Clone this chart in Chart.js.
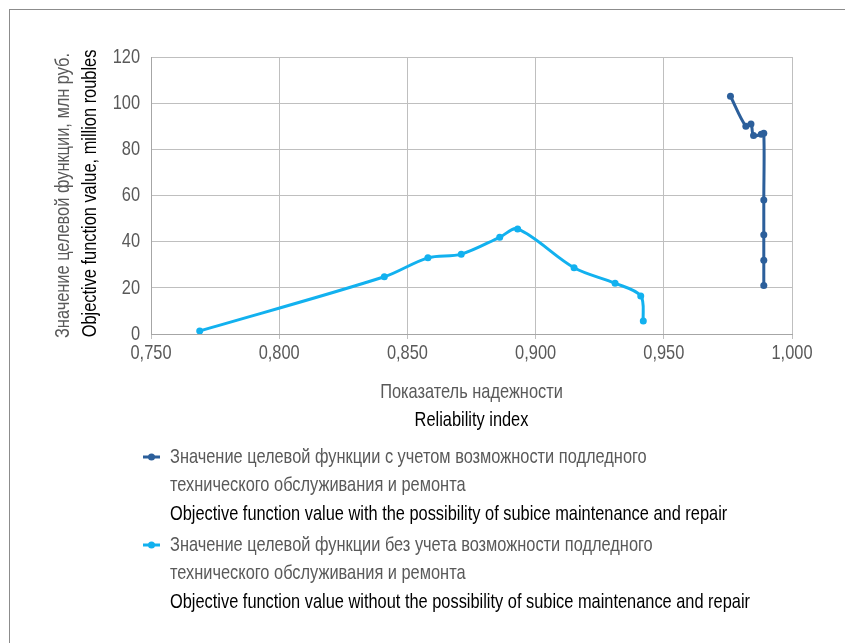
<!DOCTYPE html>
<html>
<head>
<meta charset="utf-8">
<script src="https://cdn.jsdelivr.net/npm/chart.js@4/dist/chart.umd.min.js"></script>
<style>
  html, body { margin: 0; padding: 0; background: #ffffff; overflow: hidden; }
  #wrap { position: relative; width: 845px; height: 643px; }
</style>
</head>
<body>
<div id="wrap"><canvas id="chart" width="845" height="643"></canvas></div>
<script>
// Series: reliability index (x) and objective function value, million roubles (y)
const reliabilityWith = [0.976, 0.982, 0.984, 0.985, 0.988, 0.989, 0.989, 0.989, 0.989, 0.989];
const objectiveWith   = [103, 90, 91, 86, 86.5, 87, 58, 43, 32, 21];

const reliabilityWithout = [0.769, 0.841, 0.858, 0.871, 0.886, 0.893, 0.915, 0.931, 0.941, 0.942];
const objectiveWithout   = [1.3, 24.8, 33, 34.6, 41.9, 45.5, 28.7, 22, 16.5, 5.6];

// Tick labels
const xTickLabels = ['0,750', '0,800', '0,850', '0,900', '0,950', '1,000'];
const yTickLabels = ['0', '20', '40', '60', '80', '100', '120'];

// Axis titles (Russian / English)
const xTitle = ['Показатель надежности', 'Reliability index'];
const yTitle = ['Значение целевой функции, млн руб.', 'Objective function value, million roubles'];

// Legend entries (Russian lines, then English line)
const legendWith = [
  'Значение целевой функции с учетом возможности подледного',
  'технического обслуживания и ремонта',
  'Objective function value with the possibility of subice maintenance and repair'
];
const legendWithout = [
  'Значение целевой функции без учета возможности подледного',
  'технического обслуживания и ремонта',
  'Objective function value without the possibility of subice maintenance and repair'
];

const COLOR_WITH = '#2c5f9b';
const COLOR_WITHOUT = '#12b1ef';
const GREY_TEXT = '#595959';
const BLACK_TEXT = '#000000';
const FONT = '21px "Liberation Sans", Arial, sans-serif';
const SQUEEZE = 0.78;   // horizontal squeeze for the narrow typeface look

function toPoints(xs, ys) {
  return xs.map((x, i) => ({ x: x, y: ys[i] }));
}

function narrowText(ctx, text, x, y, opts) {
  ctx.save();
  ctx.translate(x, y);
  if (opts.rotate) ctx.rotate(opts.rotate);
  ctx.scale(SQUEEZE, 1);
  ctx.font = FONT;
  ctx.fillStyle = opts.color;
  ctx.textAlign = opts.align || 'left';
  ctx.textBaseline = 'middle';
  ctx.fillText(text, 0, 0);
  ctx.restore();
}

const decorations = {
  id: 'decorations',
  beforeDraw(chart) {
    const ctx = chart.ctx;
    ctx.save();
    ctx.fillStyle = '#ffffff';
    ctx.fillRect(0, 0, chart.width, chart.height);
    // outer frame
    ctx.strokeStyle = '#8c8c8c';
    ctx.lineWidth = 1;
    ctx.strokeRect(9.5, 9.5, 1000, 1000);
    ctx.restore();
  },
  afterDraw(chart) {
    const ctx = chart.ctx;
    const xs = chart.scales.x;
    const ys = chart.scales.y;
    const area = chart.chartArea;

    // tick labels
    xs.ticks.forEach((t) => {
      narrowText(ctx, t.label, xs.getPixelForValue(t.value), area.bottom + 19, { color: GREY_TEXT, align: 'center' });
    });
    ys.ticks.forEach((t) => {
      narrowText(ctx, t.label, area.left - 11, ys.getPixelForValue(t.value), { color: GREY_TEXT, align: 'right' });
    });

    // axis titles
    const cx = (area.left + area.right) / 2;
    narrowText(ctx, xTitle[0], cx, area.bottom + 58, { color: GREY_TEXT, align: 'center' });
    narrowText(ctx, xTitle[1], cx, area.bottom + 86, { color: BLACK_TEXT, align: 'center' });
    const cy = (area.top + area.bottom) / 2;
    narrowText(ctx, yTitle[0], 63, cy, { color: GREY_TEXT, align: 'center', rotate: -Math.PI / 2 });
    narrowText(ctx, yTitle[1], 90, cy - 2, { color: BLACK_TEXT, align: 'center', rotate: -Math.PI / 2 });

    // legend
    const groups = [legendWith, legendWithout];
    let y = 457;
    chart.data.datasets.forEach((ds, i) => {
      ctx.save();
      ctx.strokeStyle = ds.borderColor;
      ctx.lineWidth = 3;
      ctx.beginPath();
      ctx.moveTo(143, y);
      ctx.lineTo(160, y);
      ctx.stroke();
      ctx.fillStyle = ds.borderColor;
      ctx.beginPath();
      ctx.arc(151.5, y, 3.5, 0, Math.PI * 2);
      ctx.fill();
      ctx.restore();
      groups[i].forEach((line, j) => {
        narrowText(ctx, line, 170, y + j * 28.5, { color: j < 2 ? GREY_TEXT : BLACK_TEXT });
      });
      y += 88;
    });
  }
};

new Chart(document.getElementById('chart'), {
  type: 'line',
  data: {
    datasets: [
      {
        label: legendWith[0],
        data: toPoints(reliabilityWith, objectiveWith),
        borderColor: COLOR_WITH,
        backgroundColor: COLOR_WITH,
        borderWidth: 3,
        pointRadius: 3.5,
        pointBorderWidth: 0,
        pointHoverRadius: 3.5,
        tension: 0.33,
        fill: false
      },
      {
        label: legendWithout[0],
        data: toPoints(reliabilityWithout, objectiveWithout),
        borderColor: COLOR_WITHOUT,
        backgroundColor: COLOR_WITHOUT,
        borderWidth: 3,
        pointRadius: 3.5,
        pointBorderWidth: 0,
        pointHoverRadius: 3.5,
        tension: 0.33,
        fill: false
      }
    ]
  },
  options: {
    responsive: false,
    animation: false,
    devicePixelRatio: 1,
    layout: { padding: { left: 151, right: 53, top: 57, bottom: 304 } },
    plugins: { legend: { display: false }, tooltip: { enabled: false } },
    scales: {
      x: {
        type: 'linear',
        min: 0.75,
        max: 1.0,
        ticks: {
          display: false,
          stepSize: 0.05,
          callback: (v, i) => xTickLabels[i]
        },
        grid: { color: '#bfbfbf', lineWidth: 1, drawTicks: true, tickLength: 5 },
        border: { color: '#a6a6a6', width: 1 }
      },
      y: {
        type: 'linear',
        min: 0,
        max: 120,
        ticks: {
          display: false,
          stepSize: 20,
          callback: (v, i) => yTickLabels[i]
        },
        grid: { color: '#bfbfbf', lineWidth: 1, drawTicks: false },
        border: { color: '#a6a6a6', width: 1 }
      }
    }
  },
  plugins: [decorations]
});
</script>
</body>
</html>
